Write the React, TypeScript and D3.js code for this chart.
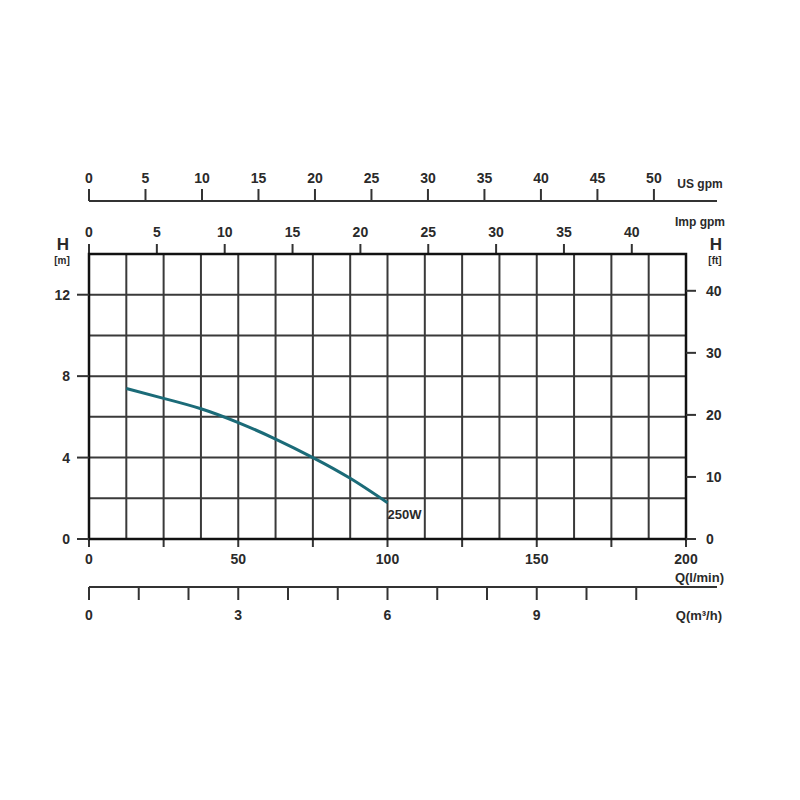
import React from "react";
import * as d3 from "d3";

// ---- data ----
const flowLmin = [12.5, 25, 37.5, 50, 62.5, 75, 87.5, 100];
const head250W = [7.39, 6.91, 6.4, 5.72, 4.91, 4.0, 2.98, 1.78];
const curveLabel = "250W";

const usGpmTicks = [0, 5, 10, 15, 20, 25, 30, 35, 40, 45, 50];
const impGpmTicks = [0, 5, 10, 15, 20, 25, 30, 35, 40];
const hmTicks = [0, 4, 8, 12];
const hftTicks = [0, 10, 20, 30, 40];
const qLminTicks = [0, 50, 100, 150, 200];
const qM3hTicks = [0, 3, 6, 9];
const qM3hMinor = [0, 1, 2, 3, 4, 5, 6, 7, 8, 9, 10, 11];
const gridQ = d3.range(12.5, 200, 12.5);
const gridH = [2, 4, 6, 8, 10, 12];
const bottomTicksQ = d3.range(0, 201, 25);

const FONT = "'Liberation Sans Narrow', 'Liberation Sans', Arial, sans-serif";
const TXT = "#2a2a2a";

export default function App() {
  const L = 89, R = 686, T = 254, B = 539;
  const x = d3.scaleLinear().domain([0, 200]).range([L, R]);
  const y = d3.scaleLinear().domain([0, 14]).range([B, T]);
  const xUS = d3.scaleLinear().domain([0, 200 / 3.785]).range([L, R]);
  const xImp = d3.scaleLinear().domain([0, 200 / 4.546]).range([L, R]);
  const xM3 = d3.scaleLinear().domain([0, 12]).range([L, R]);
  const yFt = d3.scaleLinear().domain([0, 14 / 0.3048]).range([B, T]);

  const pts = flowLmin.map((q, i) => [q, head250W[i]] as [number, number]);
  const line = d3
    .line<[number, number]>()
    .x((d) => x(d[0]))
    .y((d) => y(d[1]))
    .curve(d3.curveNatural);

  const usY = 201;
  const m3Y = 587;
  const lab = { fontFamily: FONT, fontWeight: 700, fill: TXT } as const;

  return (
    <svg
      width={800}
      height={800}
      style={{ position: "absolute", left: 0, top: 0, background: "#fff" }}
    >
      <rect x={0} y={0} width={800} height={800} fill="#fff" />

      {/* US gpm axis */}
      <line x1={L} x2={717} y1={usY} y2={usY} stroke="#333" strokeWidth={2} />
      {usGpmTicks.map((t) => (
        <g key={"us" + t}>
          <line x1={xUS(t)} x2={xUS(t)} y1={usY} y2={usY - 12} stroke="#333" strokeWidth={2} />
          <text x={xUS(t)} y={183} textAnchor="middle" fontSize={14} {...lab}>
            {t}
          </text>
        </g>
      ))}
      <text x={700} y={188} textAnchor="middle" fontSize={12} {...lab}>
        US gpm
      </text>

      {/* Imp gpm axis */}
      {impGpmTicks.map((t) => (
        <g key={"imp" + t}>
          <line x1={xImp(t)} x2={xImp(t)} y1={T} y2={T - 10} stroke="#333" strokeWidth={2} />
          <text x={xImp(t)} y={237} textAnchor="middle" fontSize={14} {...lab}>
            {t}
          </text>
        </g>
      ))}
      <text x={700} y={226} textAnchor="middle" fontSize={12} {...lab}>
        Imp gpm
      </text>

      {/* grid */}
      {gridQ.map((q) => (
        <line key={"gq" + q} x1={x(q)} x2={x(q)} y1={T} y2={B} stroke="#3a3a3a" strokeWidth={2} />
      ))}
      {gridH.map((h) => (
        <line key={"gh" + h} x1={L} x2={R} y1={y(h)} y2={y(h)} stroke="#3a3a3a" strokeWidth={2} />
      ))}

      {/* bottom ticks */}
      {bottomTicksQ.map((q) => (
        <line key={"bt" + q} x1={x(q)} x2={x(q)} y1={B} y2={B + 8} stroke="#333" strokeWidth={2} />
      ))}

      {/* frame */}
      <rect x={L} y={T} width={R - L} height={B - T} fill="none" stroke="#111" strokeWidth={2.5} />

      {/* left H[m] axis */}
      {hmTicks.map((t) => (
        <g key={"hm" + t}>
          <line x1={L - 12} x2={L} y1={y(t)} y2={y(t)} stroke="#333" strokeWidth={2} />
          <text x={70} y={y(t) + 5} textAnchor="end" fontSize={14} {...lab}>
            {t}
          </text>
        </g>
      ))}
      <text x={63} y={250} textAnchor="middle" fontSize={17} {...lab}>
        H
      </text>
      <text x={62} y={264} textAnchor="middle" fontSize={10} {...lab}>
        [m]
      </text>

      {/* right H[ft] axis */}
      {hftTicks.map((t) => (
        <g key={"hf" + t}>
          <line x1={R} x2={R + 10} y1={yFt(t)} y2={yFt(t)} stroke="#333" strokeWidth={2} />
          <text x={706} y={yFt(t) + 5} textAnchor="start" fontSize={14} {...lab}>
            {t}
          </text>
        </g>
      ))}
      <text x={716} y={250} textAnchor="middle" fontSize={17} {...lab}>
        H
      </text>
      <text x={715} y={264} textAnchor="middle" fontSize={10} {...lab}>
        [ft]
      </text>

      {/* l/min labels */}
      {qLminTicks.map((t) => (
        <text key={"ql" + t} x={x(t)} y={564} textAnchor="middle" fontSize={14} {...lab}>
          {t}
        </text>
      ))}
      <text x={724} y={582} textAnchor="end" fontSize={13} {...lab}>
        Q(l/min)
      </text>

      {/* m3/h axis */}
      <line x1={L} x2={717} y1={m3Y} y2={m3Y} stroke="#333" strokeWidth={2} />
      {qM3hMinor.map((t) => (
        <line key={"m3t" + t} x1={xM3(t)} x2={xM3(t)} y1={m3Y} y2={m3Y + 13} stroke="#333" strokeWidth={2} />
      ))}
      {qM3hTicks.map((t) => (
        <text key={"m3" + t} x={xM3(t)} y={620} textAnchor="middle" fontSize={14} {...lab}>
          {t}
        </text>
      ))}
      <text x={722} y={620} textAnchor="end" fontSize={13} {...lab}>
        Q(m³/h)
      </text>

      {/* pump curve */}
      <path d={line(pts) || ""} fill="none" stroke="#1b6b78" strokeWidth={3} />
      <text
        x={x(flowLmin[flowLmin.length - 1])}
        y={519}
        textAnchor="start"
        fontSize={13}
        {...lab}
      >
        {curveLabel}
      </text>
    </svg>
  );
}
